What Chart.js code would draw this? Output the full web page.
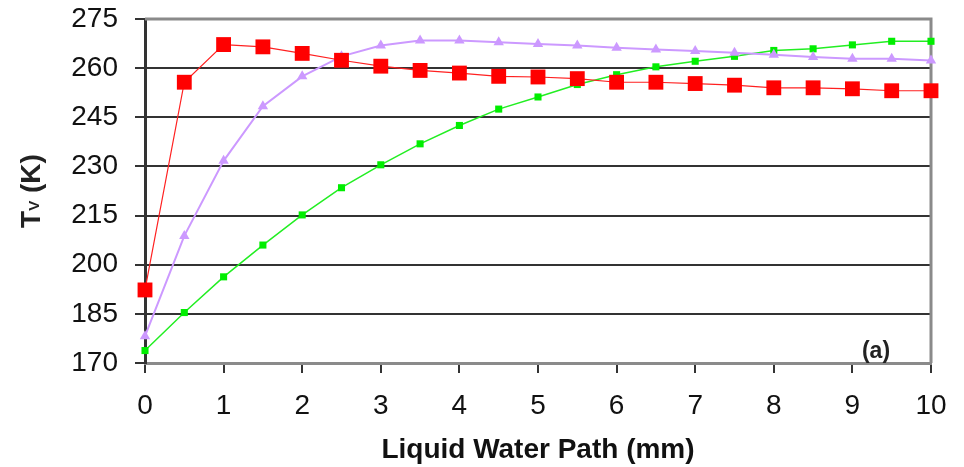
<!DOCTYPE html>
<html><head><meta charset="utf-8">
<script src="https://cdn.jsdelivr.net/npm/chart.js@4.4.0/dist/chart.umd.min.js"></script>
<style>html,body{margin:0;padding:0;background:#fff}#wrap{width:964px;height:467px}</style>
</head><body><div id="wrap"><canvas id="c" width="964" height="467"></canvas></div>
<script>
const lwp = [0,0.5,1,1.5,2,2.5,3,3.5,4,4.5,5,5.5,6,6.5,7,7.5,8,8.5,9,9.5,10];
const redSeries = [192.3,255.7,267.2,266.5,264.5,262.4,260.6,259.3,258.5,257.5,257.3,256.8,255.7,255.7,255.3,254.8,254.0,254.0,253.7,253.1,253.1];
const purpleSeries = [178.2,208.8,231.7,248.4,257.5,263.6,266.9,268.4,268.4,267.9,267.4,266.9,266.2,265.7,265.2,264.7,264.1,263.4,262.9,262.9,262.3];
const greenSeries = [173.8,185.4,196.3,206.0,215.2,223.5,230.5,236.9,242.5,247.5,251.2,255.0,258.0,260.4,262.1,263.6,265.4,265.9,267.1,268.2,268.2];
const yTicks = [170,185,200,215,230,245,260,275];
const xTicks = [0,1,2,3,4,5,6,7,8,9,10];
const xTitle = 'Liquid Water Path (mm)';
const panelLabel = '(a)';

const pts = s => lwp.map((x,i)=>({x:x,y:s[i]}));

const frame = {
  id:'frame',
  beforeDatasetsDraw(chart){
    const {ctx, chartArea:a} = chart;
    ctx.save();
    ctx.strokeStyle='#8a8a8a'; ctx.lineWidth=3;
    ctx.beginPath(); ctx.moveTo(a.left,a.top); ctx.lineTo(a.right,a.top); ctx.lineTo(a.right,a.bottom); ctx.stroke();
    ctx.restore();
  },
  afterDraw(chart){
    const {ctx, chartArea:a} = chart;
    ctx.save();
    ctx.fillStyle='#222'; ctx.font='bold 23px "Liberation Sans", Arial, sans-serif';
    ctx.textAlign='center'; ctx.textBaseline='middle';
    const xs = chart.scales.x;
    ctx.fillText(panelLabel, xs.getPixelForValue(9.3), a.bottom-11);
    ctx.translate(40,191); ctx.rotate(-Math.PI/2);
    ctx.textBaseline='alphabetic'; ctx.textAlign='left';
    const big='bold 28px "Liberation Sans", Arial, sans-serif', small='bold 15px "Liberation Sans", Arial, sans-serif';
    ctx.font=big; const wT=ctx.measureText('T').width;
    ctx.font=small; const wV=ctx.measureText('V').width;
    ctx.font=big; const wK=ctx.measureText(' (K)').width;
    let x0=-(wT+wV+wK)/2;
    ctx.font=big; ctx.fillText('T',x0,0);
    ctx.font=small; ctx.fillText('V',x0+wT,-1);
    ctx.font=big; ctx.fillText(' (K)',x0+wT+wV,0);
    ctx.restore();
  }
};

new Chart(document.getElementById('c'),{
  type:'line',
  data:{datasets:[
    {label:'red',data:pts(redSeries),borderColor:'#ff2020',backgroundColor:'#ff0000',borderWidth:1.2,pointStyle:'rect',pointRadius:10.5,pointBorderWidth:0,order:1,clip:false},
    {label:'purple',data:pts(purpleSeries),borderColor:'#cc99ff',backgroundColor:'#cc99ff',borderWidth:2,pointStyle:'triangle',pointRadius:6,pointBorderWidth:0,order:2,clip:false},
    {label:'green',data:pts(greenSeries),borderColor:'#22ee22',backgroundColor:'#00ee00',borderWidth:1.5,pointStyle:'rect',pointRadius:5,pointBorderWidth:0,order:3,clip:false}
  ]},
  options:{
    responsive:false, animation:false,
    layout:{padding:{top:19,right:33,left:0,bottom:0}},
    plugins:{legend:{display:false},tooltip:{enabled:false}},
    elements:{line:{tension:0}},
    scales:{
      x:{type:'linear',min:0,max:10,
        afterFit(s){s.height=104; s.paddingLeft=0; s.paddingRight=0;},
        afterBuildTicks(s){s.ticks=xTicks.map(v=>({value:v}));},
        grid:{drawOnChartArea:false,drawTicks:true,tickLength:10,color:'#333',lineWidth:2},
        border:{color:'#8a8a8a',width:3},
        ticks:{padding:16,color:'#111',font:{family:'"Liberation Sans", Arial, sans-serif',size:28},maxRotation:0,autoSkip:false},
        title:{display:true,text:xTitle,color:'#111',font:{family:'"Liberation Sans", Arial, sans-serif',size:28,weight:'bold'},padding:{top:0,bottom:0}}
      },
      y:{type:'linear',min:170,max:275,
        afterFit(s){s.width=145; s.paddingTop=0; s.paddingBottom=0;},
        afterBuildTicks(s){s.ticks=yTicks.map(v=>({value:v}));},
        grid:{color:c=>(c.tick&&(c.tick.value===170||c.tick.value===275))?'rgba(0,0,0,0)':'#333',lineWidth:2,tickLength:10,tickColor:'#333'},
        border:{color:'#333',width:3},
        ticks:{padding:17,color:'#111',font:{family:'"Liberation Sans", Arial, sans-serif',size:28},autoSkip:false}
      }
    }
  },
  plugins:[frame]
});
</script></body></html>
